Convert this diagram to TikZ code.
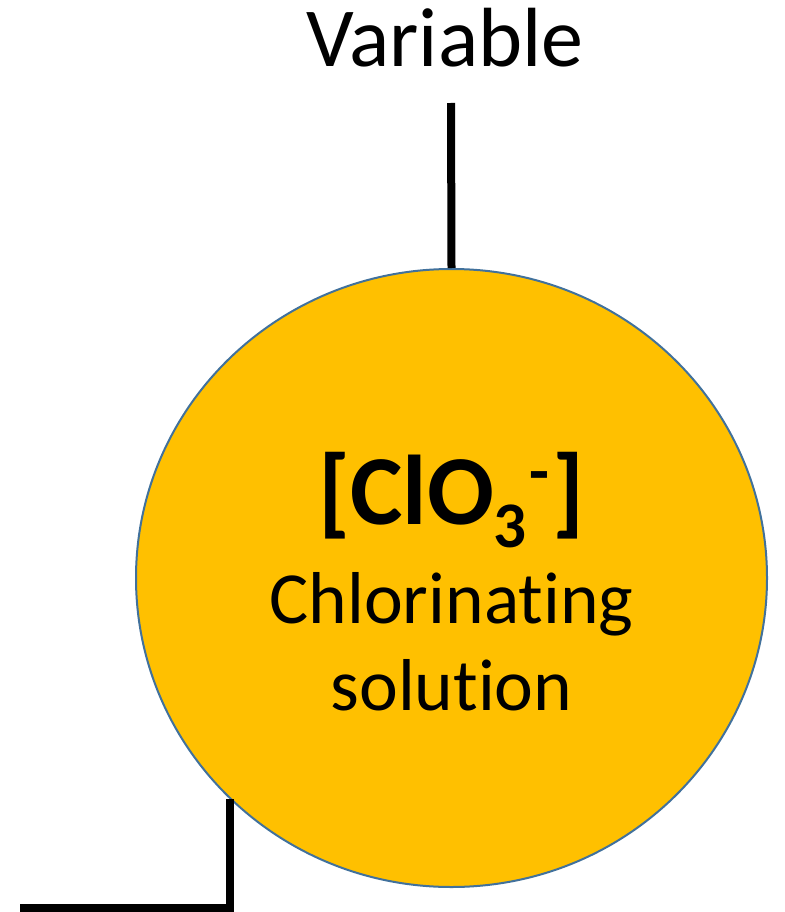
\documentclass[tikz,border=0pt]{standalone}
\usepackage{fontspec}
\setmainfont{Carlito}[Ligatures=NoCommon]
\usetikzlibrary{shapes.geometric}
\definecolor{gold}{HTML}{FFC000}
\definecolor{rim}{HTML}{41719C}

\begin{document}
\begin{tikzpicture}[x=1pt,y=-1pt,
        wire/.style={line width=8pt,black},
        label/.style={inner sep=0pt,anchor=base}]
        \useasboundingbox(0,0)rectangle(784,912);

        \node[ellipse,fill=gold,draw=rim,line width=2pt,minimum width=631pt,minimum height=618pt,inner sep=0pt](sol)at(451.5,578){};

        \node[label](ion)at(451.5,524){\fontsize{99}{110}\selectfont\bfseries[ClO\raisebox{-23pt}{\fontsize{65}{70}\selectfont 3}\kern3pt\raisebox{31pt}{\fontsize{65}{70}\selectfont -}\kern3pt]};
        \node[label,align=center,font=\fontsize{73.5}{87}\selectfont](name)at(451.5,710){Chlorinating\\solution};

        \node[label,font=\fontsize{84}{90}\selectfont](var)at(445,67){Variable};
        \coordinate(vtop)at(451,103);
        \coordinate(lend)at(20,908);

        \draw[wire](vtop)--(sol.north);
        \draw[wire](sol.225)|-(lend);
    \end{tikzpicture}
\end{document}
